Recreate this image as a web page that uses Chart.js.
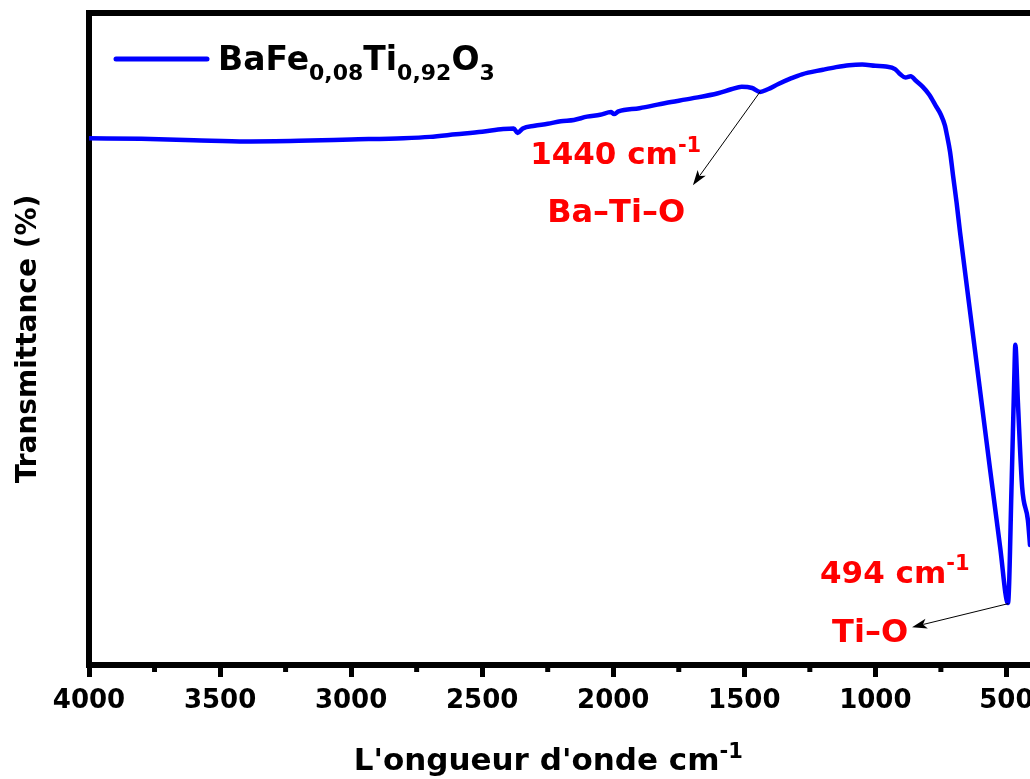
<!DOCTYPE html>
<html>
<head>
<meta charset="utf-8">
<script src="https://cdn.jsdelivr.net/npm/chart.js@4.4.1/dist/chart.umd.min.js"></script>
<style>
  body { margin: 0; background: #fff; overflow: hidden; }
  #wrap { width: 1030px; height: 779px; }
</style>
</head>
<body>
<div id="wrap"><canvas id="ftirChart" width="1030" height="779"></canvas></div>
<script>
// spectre FTIR (nombre d'onde en cm-1, transmittance relative)
const wavenumber = [4000, 3800, 3600, 3400, 3200, 3000, 2800, 2700, 2600, 2500, 2420, 2380, 2365, 2345, 2300, 2250, 2200, 2150, 2100, 2050, 2008, 1997, 1980, 1900, 1800, 1700, 1600, 1550, 1510, 1470, 1440, 1410, 1370, 1320, 1280, 1200, 1150, 1100, 1050, 1000, 960, 925, 905, 885, 865, 845, 820, 795, 770, 750, 735, 727, 715, 704, 690, 677, 626, 575, 524, 494, 480, 470, 466, 456, 440, 418, 410];
const transmittance = [80.8, 80.7, 80.5, 80.3, 80.4, 80.6, 80.8, 81.0, 81.4, 81.8, 82.2, 82.3, 81.6, 82.3, 82.7, 83.0, 83.4, 83.6, 84.1, 84.4, 84.8, 84.5, 84.9, 85.4, 86.2, 86.9, 87.7, 88.3, 88.7, 88.5, 87.9, 88.3, 89.1, 90.0, 90.6, 91.3, 91.7, 92.0, 92.1, 91.9, 91.8, 91.4, 90.6, 90.1, 90.3, 89.6, 88.7, 87.5, 85.8, 84.4, 82.8, 81.3, 78.7, 75.2, 70.9, 66.4, 50.2, 34.0, 18.1, 9.5, 28.0, 44.0, 49.1, 40.2, 27.3, 22.2, 18.4];
const xMajorTicks = [4000, 3500, 3000, 2500, 2000, 1500, 1000, 500];
const xMinorTicks = [3750, 3250, 2750, 2250, 1750, 1250, 750];
const seriesLabel = [{t: 'BaFe'}, {t: '0,08', sub: true}, {t: 'Ti'}, {t: '0,92', sub: true}, {t: 'O'}, {t: '3', sub: true}];
const xTitle = [{t: "L'ongueur d'onde cm"}, {t: '-1', sup: true}];

// annotations (coordonnées en unités des axes)
const notes = [
    { label: [{t: '1440 cm'}, {t: '-1', sup: true}], lx: 2317, ly: 76.8,
      name: 'Ba–Ti–O', nx: 1989, ny: 67.9, from: [1440, 87.9], to: [1696, 73.6] },
    { label: [{t: '494 cm'}, {t: '-1', sup: true}], lx: 1211, ly: 12.6,
      name: 'Ti–O', nx: 1020, ny: 3.5, from: [494, 9.4], to: [860, 5.8] }
];

const FONT = '"DejaVu Sans", "Liberation Sans", sans-serif';
const BLUE = '#0000ff';

function richWidth(ctx, parts, size) {
    let w = 0;
    parts.forEach(p => {
        const s = (p.sub || p.sup) ? Math.round(size * 0.68) : size;
        ctx.font = 'bold ' + s + 'px ' + FONT;
        w += ctx.measureText(p.t).width;
    });
    return w;
}

function drawRich(ctx, parts, x, y, size, center) {
    let cx = center ? x - richWidth(ctx, parts, size) / 2 : x;
    ctx.textBaseline = 'alphabetic';
    ctx.textAlign = 'left';
    parts.forEach(p => {
        const s = (p.sub || p.sup) ? Math.round(size * 0.68) : size;
        ctx.font = 'bold ' + s + 'px ' + FONT;
        const dy = p.sub ? size * 0.31 : (p.sup ? -size * 0.4 : 0);
        ctx.fillText(p.t, cx, y + dy);
        cx += ctx.measureText(p.t).width;
    });
}

function arrow(ctx, x1, y1, x2, y2) {
    const a = Math.atan2(y2 - y1, x2 - x1);
    const len = 15, half = 5;
    ctx.strokeStyle = '#000';
    ctx.fillStyle = '#000';
    ctx.lineWidth = 1;
    ctx.beginPath();
    ctx.moveTo(x1, y1);
    ctx.lineTo(x2 - Math.cos(a) * len * 0.8, y2 - Math.sin(a) * len * 0.8);
    ctx.stroke();
    ctx.beginPath();
    ctx.moveTo(x2, y2);
    ctx.lineTo(x2 - Math.cos(a) * len + Math.sin(a) * half, y2 - Math.sin(a) * len - Math.cos(a) * half);
    ctx.lineTo(x2 - Math.cos(a) * len * 0.75, y2 - Math.sin(a) * len * 0.75);
    ctx.lineTo(x2 - Math.cos(a) * len - Math.sin(a) * half, y2 - Math.sin(a) * len + Math.cos(a) * half);
    ctx.closePath();
    ctx.fill();
}

const decorPlugin = {
    id: 'decor',
    afterDraw(chart) {
        const ctx = chart.ctx;
        const area = chart.chartArea;
        const xs = chart.scales.x, ys = chart.scales.y;
        ctx.save();

        // cadre du haut
        ctx.strokeStyle = '#000';
        ctx.lineWidth = 6;
        ctx.beginPath();
        ctx.moveTo(area.left - 3, area.top);
        ctx.lineTo(area.right + 3, area.top);
        ctx.stroke();

        // graduations secondaires
        ctx.lineWidth = 5;
        xMinorTicks.forEach(v => {
            const px = xs.getPixelForValue(v);
            ctx.beginPath();
            ctx.moveTo(px, area.bottom);
            ctx.lineTo(px, area.bottom + 7);
            ctx.stroke();
        });

        // légende
        const ds = chart.data.datasets[0];
        ctx.strokeStyle = ds.borderColor;
        ctx.lineWidth = 5;
        ctx.lineCap = 'round';
        ctx.beginPath();
        ctx.moveTo(area.left + 27, area.top + 46);
        ctx.lineTo(area.left + 118, area.top + 46);
        ctx.stroke();
        ctx.fillStyle = '#000';
        drawRich(ctx, seriesLabel, area.left + 129, area.top + 57, 33, false);

        // titre de l'axe x
        drawRich(ctx, xTitle, area.left + 0.488 * (area.right - area.left), chart.height - 9, 31, true);

        // annotations
        notes.forEach(n => {
            ctx.fillStyle = '#ff0000';
            drawRich(ctx, n.label, xs.getPixelForValue(n.lx), ys.getPixelForValue(n.ly), 31, false);
            drawRich(ctx, [{t: n.name}], xs.getPixelForValue(n.nx), ys.getPixelForValue(n.ny), 32, true);
            arrow(ctx, xs.getPixelForValue(n.from[0]), ys.getPixelForValue(n.from[1]),
                       xs.getPixelForValue(n.to[0]), ys.getPixelForValue(n.to[1]));
        });
        ctx.restore();
    }
};

const points = wavenumber.map((w, i) => ({ x: w, y: transmittance[i] }));

new Chart(document.getElementById('ftirChart').getContext('2d'), {
    type: 'line',
    data: {
        datasets: [{
            label: 'BaFe0,08Ti0,92O3',
            data: points,
            borderColor: BLUE,
            borderWidth: 4.5,
            pointRadius: 0,
            cubicInterpolationMode: 'monotone',
            borderJoinStyle: 'round',
            borderCapStyle: 'round',
            fill: false
        }]
    },
    options: {
        responsive: false,
        animation: false,
        layout: { padding: { top: 13, left: 0, right: 0, bottom: 0 } },
        plugins: {
            legend: { display: false },
            tooltip: { enabled: false }
        },
        scales: {
            x: {
                type: 'linear',
                reverse: true,
                min: 410,
                max: 4000,
                afterBuildTicks: s => { s.ticks = xMajorTicks.map(v => ({ value: v })); },
                afterFit: s => { s.height = 779 - 665; s.paddingLeft = 0; s.paddingRight = 0; },
                ticks: {
                    autoSkip: false,
                    maxRotation: 0,
                    padding: 9,
                    color: '#000',
                    font: { family: FONT, weight: 'bold', size: 26 },
                    callback: v => String(v)
                },
                grid: {
                    drawOnChartArea: false,
                    drawTicks: true,
                    tickLength: 12,
                    tickWidth: 5,
                    tickColor: '#000'
                },
                border: { color: '#000', width: 6 }
            },
            y: {
                min: 0,
                max: 100,
                afterFit: s => { s.width = 89; },
                ticks: { display: false },
                grid: { display: false, drawTicks: false },
                border: { color: '#000', width: 6 },
                title: {
                    display: true,
                    text: 'Transmittance (%)',
                    color: '#000',
                    font: { family: FONT, weight: 'bold', size: 28 },
                    padding: { top: 12, bottom: 0 }
                }
            }
        }
    },
    plugins: [decorPlugin]
});
</script>
</body>
</html>
